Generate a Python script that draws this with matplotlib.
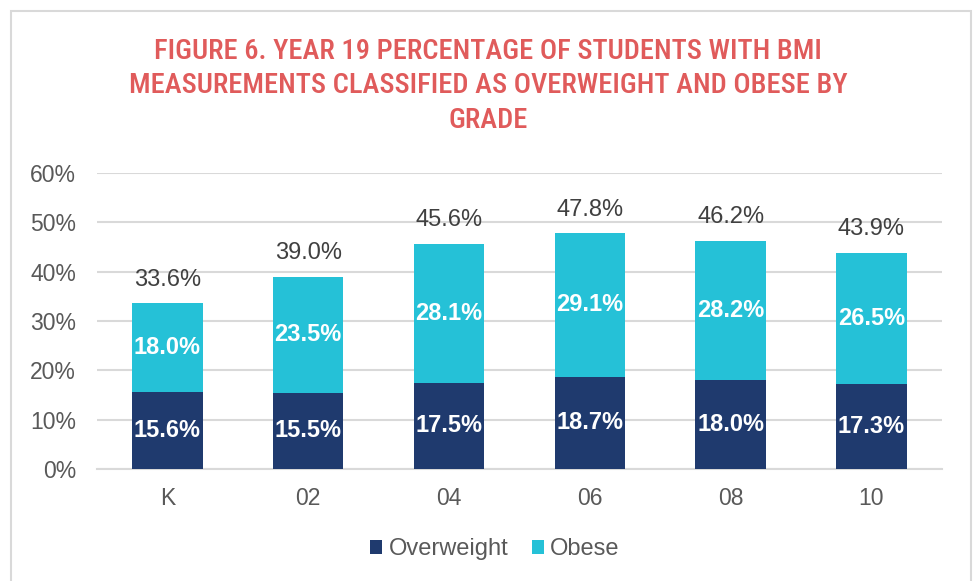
import numpy as np
import matplotlib.pyplot as plt
from matplotlib.patches import Rectangle

grades = ["K", "02", "04", "06", "08", "10"]
overweight = [15.6, 15.5, 17.5, 18.7, 18.0, 17.3]
obese = [18.0, 23.5, 28.1, 29.1, 28.2, 26.5]
totals = [33.6, 39.0, 45.6, 47.8, 46.2, 43.9]

navy = "#1F3A6E"
cyan = "#25C1D7"
grid_gray = "#D9D9D9"
text_gray = "#595959"

plt.rcParams['font.family'] = ['Liberation Sans', 'DejaVu Sans']

fig = plt.figure(figsize=(9.76, 5.81), dpi=100)
ax = fig.add_axes([0.0994, 0.1928, 0.8656, 0.5094])

x = np.arange(len(grades))
ax.bar(x, overweight, width=0.5, color=navy, zorder=3, label="Overweight")
ax.bar(x, obese, width=0.5, bottom=overweight, color=cyan, zorder=3, label="Obese")

for i in range(len(grades)):
    ax.text(x[i], overweight[i] / 2, f"{overweight[i]:.1f}%", ha="center", va="center",
            color="white", fontsize=17, fontweight="bold", zorder=4)
    ax.text(x[i], overweight[i] + obese[i] / 2, f"{obese[i]:.1f}%", ha="center", va="center",
            color="white", fontsize=17, fontweight="bold", zorder=4)
    ax.annotate(f"{totals[i]:.1f}%", (x[i], totals[i]), xytext=(0, 17), textcoords="offset points",
                ha="center", va="center", color="#404040", fontsize=17)

ax.set_xlim(-0.5, len(grades) - 0.5)
ax.set_ylim(0, 60)
ax.set_yticks(np.arange(0, 61, 10))
ax.set_yticklabels([f"{v}%" for v in range(0, 61, 10)])
ax.set_xticks(x)
ax.set_xticklabels(grades)
ax.tick_params(axis="both", length=0, labelsize=16.5, labelcolor=text_gray)
ax.tick_params(axis="y", pad=15)
ax.tick_params(axis="x", pad=13)
ax.yaxis.grid(True, color=grid_gray, linewidth=1.5, zorder=0)
for s in ["top", "right", "left"]:
    ax.spines[s].set_visible(False)
ax.spines["bottom"].set_color(grid_gray)
ax.spines["bottom"].set_linewidth(1.5)

fig.text(0.5, 0.852, "FIGURE 6. YEAR 19 PERCENTAGE OF STUDENTS WITH BMI\n"
         "MEASUREMENTS CLASSIFIED AS OVERWEIGHT AND OBESE BY\nGRADE",
         ha="center", va="center", color="#E05B5B", fontsize=20.5, linespacing=1.37,
         family=["Roboto Condensed", "Liberation Sans Narrow", "DejaVu Sans"],
         fontstretch="condensed", fontweight="medium")

leg = fig.legend(loc="center", bbox_to_anchor=(0.507, 0.055), ncol=2, frameon=False,
                 fontsize=17, handlelength=0.52, handleheight=0.52, handletextpad=0.25,
                 columnspacing=1.0)
for t in leg.get_texts():
    t.set_color(text_gray)

# chart border
fig.add_artist(Rectangle((11 / 976, -0.1), (971 - 11) / 976, (581 - 11) / 581 + 0.1,
                         transform=fig.transFigure, fill=False, edgecolor=grid_gray, linewidth=1.5))

fig.savefig("out.png", dpi=100)
